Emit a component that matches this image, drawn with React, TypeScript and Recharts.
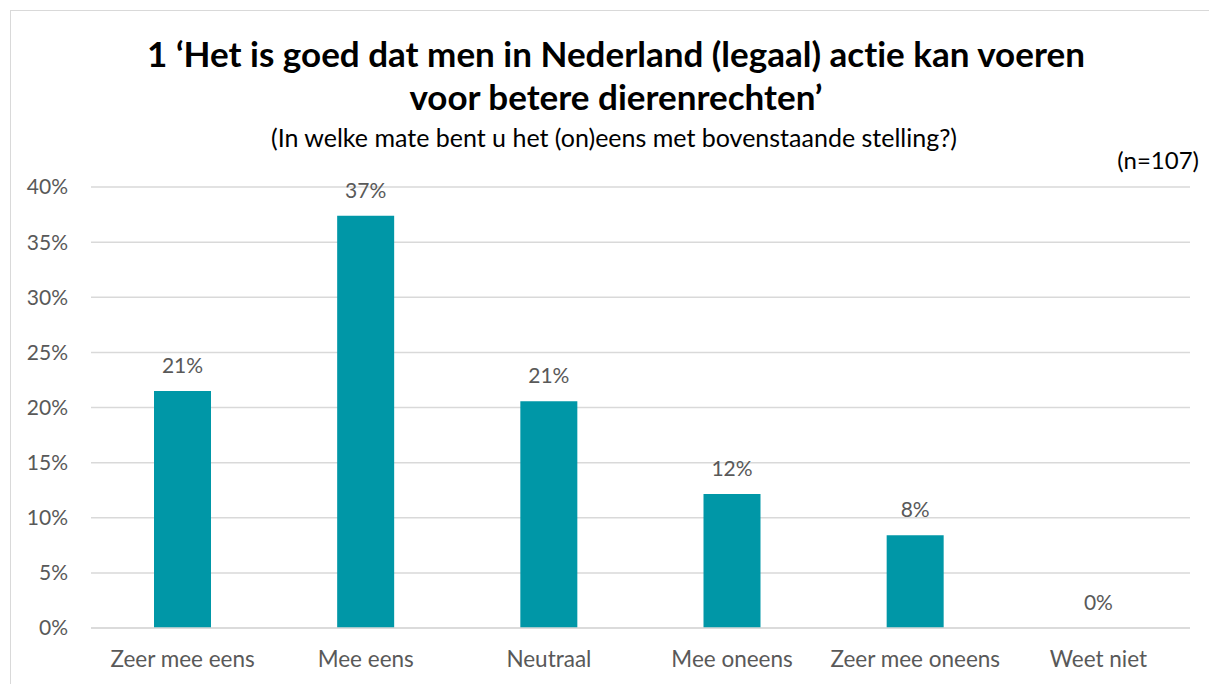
import { BarChart, Bar, XAxis, YAxis, CartesianGrid, LabelList, ReferenceDot } from "recharts";

const categories = ["Zeer mee eens", "Mee eens", "Neutraal", "Mee oneens", "Zeer mee oneens", "Weet niet"];
const counts = [23, 40, 22, 13, 9, 0];
const total = 107;
const yTicks = [0, 5, 10, 15, 20, 25, 30, 35, 40];

const FONT = "Lato, 'Open Sans', sans-serif";
const GREY = "#595959";

const data = categories.map((name, i) => ({
  name,
  pct: (counts[i] / total) * 100,
}));

const fmt = (v: number) => `${Math.round(v)}%`;

export default function App() {
  return (
    <div
      style={{
        position: "absolute",
        left: 0,
        top: 0,
        width: 1209,
        height: 684,
        background: "#fff",
        fontFamily: FONT,
        fontVariantLigatures: "none",
        overflow: "hidden",
      }}
    >
      {/* chart frame: only top and left edges are visible */}
      <div
        style={{
          position: "absolute",
          left: 10,
          top: 10,
          width: 1300,
          height: 800,
          borderTop: "1px solid #d9d9d9",
          borderLeft: "1px solid #d9d9d9",
        }}
      />
      <div
        style={{
          position: "absolute",
          left: 0,
          width: 1232,
          top: 32,
          textAlign: "center",
          fontWeight: 700,
          fontSize: 35,
          lineHeight: "43px",
          color: "#000",
        }}
      >
        1 ‘Het is goed dat men in Nederland (legaal) actie kan voeren
        <br />
        voor betere dierenrechten’
      </div>
      <div
        style={{
          position: "absolute",
          left: 0,
          width: 1228,
          top: 122,
          textAlign: "center",
          fontSize: 25,
          color: "#000",
        }}
      >
        (In welke mate bent u het (on)eens met bovenstaande stelling?)
      </div>
      <div
        style={{
          position: "absolute",
          right: 10,
          top: 145,
          fontSize: 24,
          color: "#000",
        }}
      >
        (n=107)
      </div>
      <BarChart
        width={1209}
        height={684}
        data={data}
        margin={{ top: 187, right: 19, bottom: 26, left: 0 }}
        style={{ position: "absolute", left: 0, top: 0 }}
      >
        <CartesianGrid vertical={false} stroke="#d9d9d9" strokeWidth={1.5} />
        <XAxis
          dataKey="name"
          axisLine={{ stroke: "#d9d9d9", strokeWidth: 1.5 }}
          tickLine={false}
          tickMargin={17}
          interval={0}
          tick={{ fill: GREY, fontSize: 22.5, fontFamily: FONT }}
        />
        <YAxis
          width={91}
          domain={[0, 40]}
          ticks={yTicks}
          axisLine={false}
          tickLine={false}
          tickMargin={17}
          tickFormatter={(v) => `${v}%`}
          tick={{ fill: GREY, fontSize: 21, fontFamily: FONT }}
        />
        <Bar dataKey="pct" fill="#0097A7" barSize={57} isAnimationActive={false}>
          <LabelList
            dataKey="pct"
            position="top"
            offset={18}
            formatter={fmt}
            style={{ fill: GREY, fontSize: 21, fontFamily: FONT }}
          />
        </Bar>
        {/* zero-height bars get no label from LabelList, so mark them here */}
        {data
          .filter((d) => d.pct === 0)
          .map((d) => (
            <ReferenceDot
              key={d.name}
              x={d.name}
              y={0}
              r={0}
              fill="none"
              stroke="none"
              label={{
                value: fmt(d.pct),
                position: "top",
                offset: 18,
                fill: GREY,
                fontSize: 21,
                fontFamily: FONT,
              }}
            />
          ))}
      </BarChart>
    </div>
  );
}
